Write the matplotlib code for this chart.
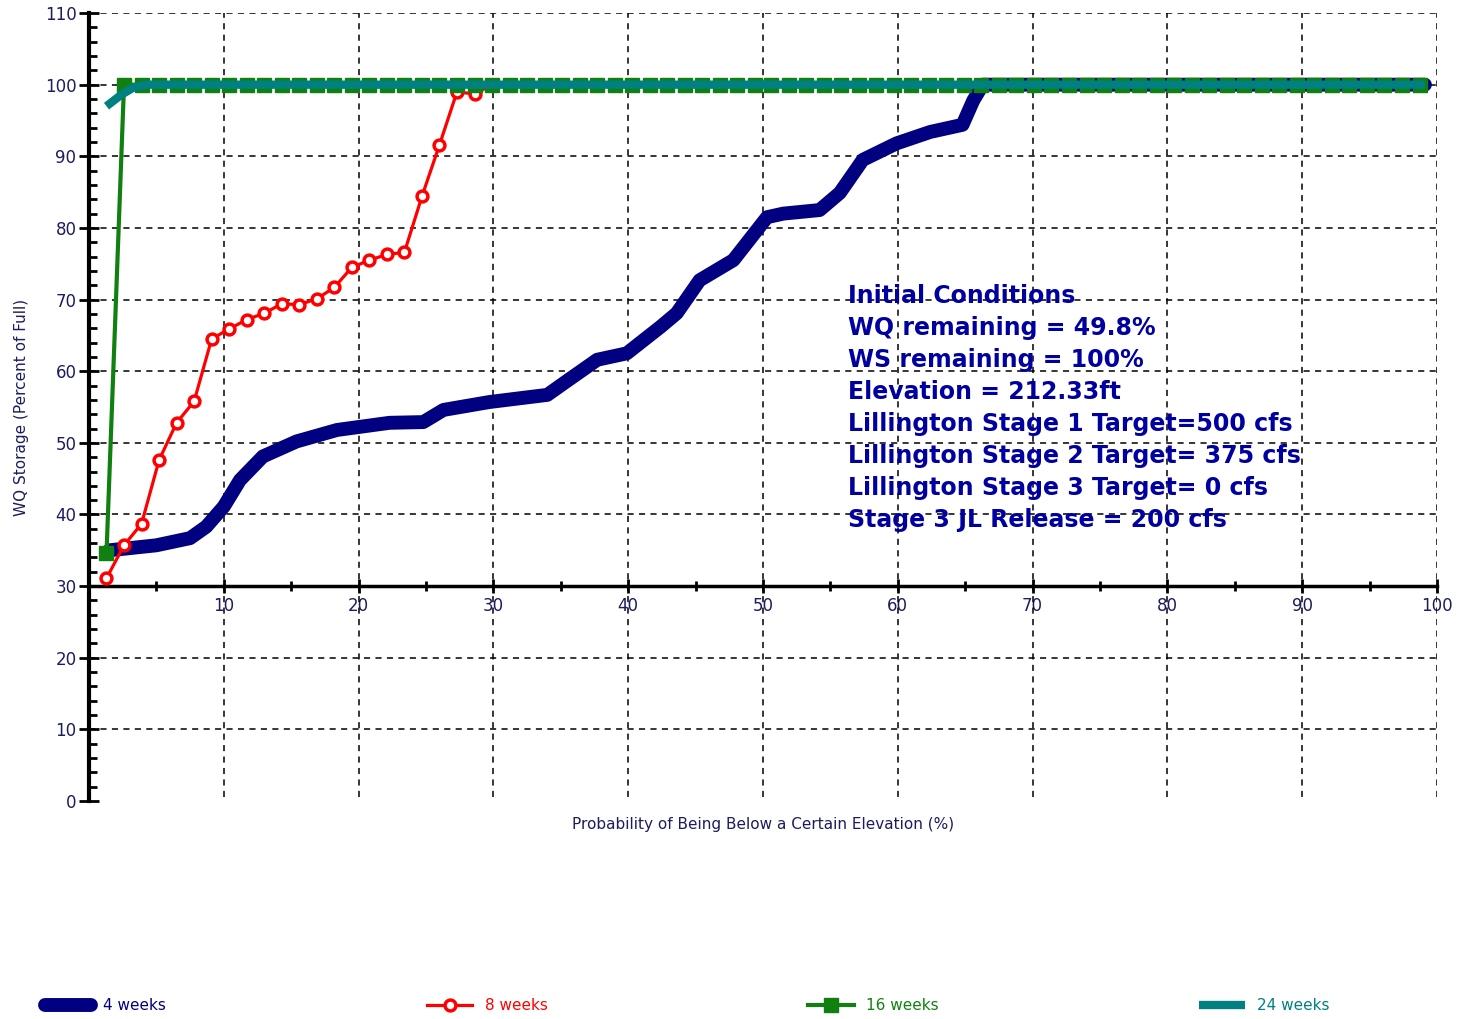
import matplotlib.pyplot as plt

# percent positions of the exceedance points
pct_x = [1.3, 2.6, 3.9, 5.2, 6.5, 7.8, 9.1, 10.4, 11.7, 13.0, 14.3, 15.6, 16.9,
         18.2, 19.5, 20.8, 22.1, 23.4, 24.7, 26.0, 27.3, 28.6, 29.9, 31.2, 32.5,
         33.8, 35.1, 36.4, 37.7, 39.0, 40.3, 41.6, 42.9, 44.2, 45.5, 46.8, 48.1,
         49.4, 50.6, 51.9, 53.2, 54.5, 55.8, 57.1, 58.4, 59.7, 61.0, 62.3, 63.6,
         64.9, 66.2, 67.5, 68.8, 70.1, 71.4, 72.7, 74.0, 75.3, 76.6, 77.9, 79.2,
         80.5, 81.8, 83.1, 84.4, 85.7, 87.0, 88.3, 89.6, 90.9, 92.2, 93.5, 94.8,
         96.1, 97.4, 98.7]

# 8 weeks: rising part, then full (100) for the rest
wk8_rise = [31.1, 35.7, 38.7, 47.6, 52.8, 55.8, 64.5, 65.9, 67.2, 68.1, 69.4,
            69.3, 70.1, 71.7, 74.5, 75.5, 76.3, 76.6, 84.4, 91.6, 99.0, 98.7]
wk8_y = wk8_rise + [100.0] * (len(pct_x) - len(wk8_rise))

# 16 weeks: one low point then full
wk16_y = [34.6] + [100.0] * (len(pct_x) - 1)

# 4 weeks: dense curve, traced
wk4_x = [1.5, 5.0, 7.5, 8.7, 10.0, 11.2, 12.9, 15.4, 18.4, 22.3, 24.8, 26.3,
         29.7, 34.0, 35.2, 37.7, 39.9, 42.4, 43.6, 45.3, 47.8, 50.3, 51.5, 54.2,
         55.7, 57.4, 59.9, 62.4, 64.8, 65.6, 66.3, 99.1]
wk4_y = [35.0, 35.7, 36.7, 38.3, 41.1, 44.8, 48.1, 50.2, 51.8, 52.8, 52.9, 54.6,
         55.7, 56.7, 58.3, 61.6, 62.5, 66.2, 68.1, 72.7, 75.5, 81.5, 82.0, 82.5,
         84.9, 89.5, 91.8, 93.4, 94.4, 97.8, 100.0, 100.0]

# 24 weeks
wk24_x = [1.3, 2.4, 3.3, 4.3, 99.1]
wk24_y = [97.0, 98.6, 99.6, 100.0, 100.0]

notes = ["Initial Conditions",
         "WQ remaining = 49.8%",
         "WS remaining = 100%",
         "Elevation = 212.33ft",
         "Lillington Stage 1 Target=500 cfs",
         "Lillington Stage 2 Target= 375 cfs",
         "Lillington Stage 3 Target= 0 cfs",
         "Stage 3 JL Release = 200 cfs"]

navy = "#000080"
red = "#ff0000"
green = "#108010"
teal = "#008080"
txt_col = "#1c1c60"

fig = plt.figure(figsize=(14.61, 10.19), dpi=100)
ax = fig.add_axes([0.0609, 0.2139, 0.9227, 0.7733])
ax.set_xlim(0, 100)
ax.set_ylim(0, 110)
ax.set_axisbelow(True)

# dashed grid, drawn over tick labels but under the data
xgrid = list(range(10, 101, 10))
ygrid = [v for v in range(10, 111, 10) if v != 30]
ax.vlines(xgrid, 0.5, 110, colors="black", lw=1.1, linestyles=(0, (4, 3.5)), zorder=1)
ax.hlines(ygrid, 0, 100, colors="black", lw=1.1, linestyles=(0, (4, 3.5)), zorder=1)

l4, = ax.plot(wk4_x, wk4_y, color=navy, lw=10, solid_joinstyle="round",
              solid_capstyle="round", zorder=2, label="4 weeks")
l8, = ax.plot(pct_x, wk8_y, color=red, lw=2.3, marker="o", ms=7.8, mfc="white",
              mec=red, mew=2.5, zorder=3, label="8 weeks")
l16, = ax.plot(pct_x, wk16_y, color=green, lw=3, marker="s", ms=9.5, mfc=green,
               mec=green, zorder=4, label="16 weeks")
l24, = ax.plot(wk24_x, wk24_y, color=teal, lw=6, solid_capstyle="butt", zorder=5,
               label="24 weeks")

# axes: y on the left, x axis line sitting at 30 %
for s in ["top", "right"]:
    ax.spines[s].set_visible(False)
ax.spines["left"].set_linewidth(3)
ax.spines["bottom"].set_position(("data", 30))
ax.spines["bottom"].set_linewidth(2.5)

ax.set_xticks(range(0, 101, 10))
ax.set_xticklabels([""] + [str(v) for v in range(10, 101, 10)])
ax.set_xticks(range(5, 100, 10), minor=True)
ax.set_yticks(range(0, 111, 10))
ax.set_yticks(range(0, 111, 2), minor=True)

ax.tick_params(axis="x", which="major", direction="inout", length=10, width=2,
               labelsize=12, labelcolor=txt_col, pad=3)
ax.tick_params(axis="x", which="minor", direction="inout", length=7, width=2)
ax.tick_params(axis="y", which="major", direction="inout", length=14, width=2,
               labelsize=12, labelcolor=txt_col, pad=2)
ax.tick_params(axis="y", which="minor", direction="in", length=5.5, width=2)

ax.set_ylabel("WQ Storage (Percent of Full)", fontsize=11, color=txt_col)
ax.yaxis.set_label_coords(-0.0445, 0.5)
ax.set_xlabel("Probability of Being Below a Certain Elevation (%)", fontsize=11,
              color=txt_col)
ax.xaxis.set_label_coords(0.5, -0.02)

for i, line in enumerate(notes):
    ax.text(56.3, 70.5 - i * 4.47, line, fontsize=17, fontweight="bold",
            color="#0000a0", ha="left", va="center", zorder=6)

fig.legend(handles=[l4, l8, l16, l24], loc="center", ncol=4, mode="expand",
           bbox_to_anchor=(0.031, 0.0128, 0.879, 0.0), frameon=False,
           fontsize=11, handlelength=3, labelcolor="linecolor", borderpad=0,
           borderaxespad=0)

fig.savefig("out.png", dpi=100)
